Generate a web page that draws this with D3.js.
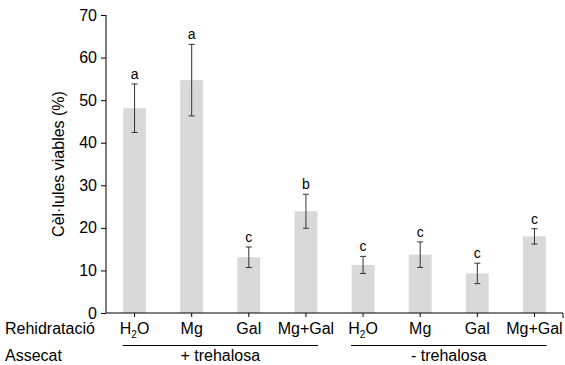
<!DOCTYPE html>
<html>
<head>
<meta charset="utf-8">
<script src="https://cdn.jsdelivr.net/npm/d3@7"></script>
<style>
    body { margin: 0; background: #fff; }
    svg { font-family: "Liberation Sans", Arial, sans-serif; }
    .axis path, .axis line { stroke: #000; }
    .axis text { fill: #000; }
</style>
</head>
<body>
<svg width="565" height="365"></svg>
<script>
// data
var treatments = ["H2O", "Mg", "Gal", "Mg+Gal", "H2O", "Mg", "Gal", "Mg+Gal"];
var viable = [48.1, 54.7, 13.1, 23.9, 11.3, 13.7, 9.3, 18.0];
var errors = [5.7, 8.4, 2.4, 4.0, 2.0, 3.0, 2.4, 1.8];
var letters = ["a", "a", "c", "b", "c", "c", "c", "c"];
var groups = ["+ trehalosa", "- trehalosa"];
var yTicks = [0, 10, 20, 30, 40, 50, 60, 70];

var svg = d3.select("svg");
var plotLeft = 106, plotRight = 563, plotTop = 15, plotBottom = 313;

var idx = d3.range(treatments.length);
var x = d3.scaleBand().domain(idx).range([plotLeft, plotRight]).paddingInner(0.6).paddingOuter(0.3);
var y = d3.scaleLinear().domain([0, 70]).range([plotBottom, plotTop]);

// bars
svg.selectAll("rect.bar")
    .data(idx)
    .enter()
    .append("rect")
    .attr("class", "bar")
    .attr("x", (i) => x(i))
    .attr("width", x.bandwidth())
    .attr("y", (i) => y(viable[i]))
    .attr("height", (i) => plotBottom - y(viable[i]))
    .attr("fill", "#d9d9d9");

// error bars
var eb = svg.selectAll("g.err")
    .data(idx)
    .enter()
    .append("g")
    .attr("class", "err")
    .attr("stroke", "#333")
    .attr("stroke-width", 1);
eb.append("line")
    .attr("x1", (i) => x(i) + x.bandwidth() / 2)
    .attr("x2", (i) => x(i) + x.bandwidth() / 2)
    .attr("y1", (i) => y(viable[i] + errors[i]))
    .attr("y2", (i) => y(viable[i] - errors[i]));
[1, -1].forEach((s) => {
    eb.append("line")
        .attr("x1", (i) => x(i) + x.bandwidth() / 2 - 3)
        .attr("x2", (i) => x(i) + x.bandwidth() / 2 + 3)
        .attr("y1", (i) => y(viable[i] + s * errors[i]))
        .attr("y2", (i) => y(viable[i] + s * errors[i]));
});

// significance letters
svg.selectAll("text.sig")
    .data(idx)
    .enter()
    .append("text")
    .attr("class", "sig")
    .attr("x", (i) => x(i) + x.bandwidth() / 2)
    .attr("y", (i) => y(viable[i] + errors[i]) - 5)
    .attr("text-anchor", "middle")
    .style("font-size", "14px")
    .text((i) => letters[i]);

// y axis
var yAxis = svg.append("g")
    .attr("class", "axis")
    .attr("transform", "translate(" + plotLeft + ",0)")
    .call(d3.axisLeft(y).tickValues(yTicks).tickSize(5).tickPadding(4).tickSizeOuter(0));
yAxis.select(".domain").attr("d", "M0," + y(70) + "V" + plotBottom);
yAxis.selectAll("text").style("font-size", "16px");

// x axis
var xAxis = svg.append("g")
    .attr("class", "axis")
    .attr("transform", "translate(0," + plotBottom + ")")
    .call(d3.axisBottom(x).tickSize(4).tickSizeOuter(5).tickFormat(""));
xAxis.select(".domain").attr("d", "M" + plotLeft + ",0H" + plotRight + "V5");

// treatment labels
var lab = svg.selectAll("text.treat")
    .data(idx)
    .enter()
    .append("text")
    .attr("class", "treat")
    .attr("x", (i) => x(i) + x.bandwidth() / 2)
    .attr("y", 334)
    .attr("text-anchor", "middle")
    .style("font-size", "16px");
lab.each(function (i) {
    var t = d3.select(this);
    if (treatments[i] == "H2O") {
        t.append("tspan").text("H");
        t.append("tspan").text("2").attr("dy", 4).style("font-size", "10px");
        t.append("tspan").text("O").attr("dy", -4);
    } else {
        t.text(treatments[i]);
    }
});

svg.append("text").attr("x", 5).attr("y", 334).style("font-size", "16px").text("Rehidratació");
svg.append("text").attr("x", 5).attr("y", 361).style("font-size", "16px").text("Assecat");

// group lines and labels
groups.forEach((g, k) => {
    var x0 = x(k * 4) + x.bandwidth() / 2 - 12;
    var x1 = x(k * 4 + 3) + x.bandwidth() / 2 + 12;
    svg.append("line")
        .attr("x1", x0).attr("x2", x1)
        .attr("y1", 345.5).attr("y2", 345.5)
        .attr("stroke", "#000");
    svg.append("text")
        .attr("x", (x0 + x1) / 2)
        .attr("y", 361)
        .attr("text-anchor", "middle")
        .style("font-size", "16px")
        .text(g);
});

// y title
svg.append("text")
    .attr("transform", "translate(64," + (plotTop + plotBottom) / 2 + ") rotate(-90)")
    .attr("text-anchor", "middle")
    .style("font-size", "16px")
    .text("Cèl·lules viables (%)");
</script>
</body>
</html>
